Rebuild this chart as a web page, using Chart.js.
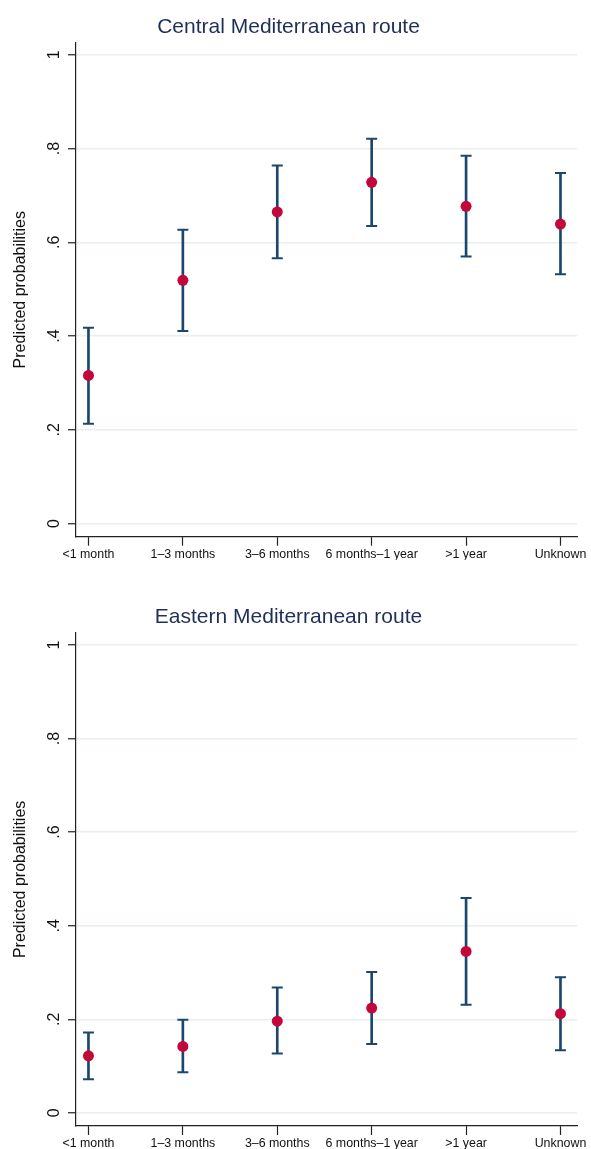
<!DOCTYPE html>
<html>
<head>
<meta charset="utf-8">
<script src="https://cdn.jsdelivr.net/npm/chart.js@4.4.1/dist/chart.umd.min.js"></script>
<style>
  body { margin: 0; background: #fff; }
  canvas { display: block; }
</style>
</head>
<body>
<canvas id="chart-central" width="591" height="580"></canvas>
<canvas id="chart-eastern" width="591" height="569"></canvas>
<script>
/* global Chart */

const durationLabels = ["<1 month", "1–3 months", "3–6 months", "6 months–1 year", ">1 year", "Unknown"];

const centralEst = [0.316, 0.519, 0.665, 0.728, 0.677, 0.639];
const centralLow = [0.213, 0.411, 0.566, 0.635, 0.570, 0.532];
const centralHigh = [0.418, 0.627, 0.764, 0.821, 0.785, 0.748];

const easternEst = [0.122, 0.142, 0.196, 0.224, 0.345, 0.212];
const easternLow = [0.072, 0.087, 0.127, 0.147, 0.231, 0.134];
const easternHigh = [0.172, 0.199, 0.268, 0.301, 0.459, 0.290];

const yTickValues = [0, 0.2, 0.4, 0.6, 0.8, 1];
const yTickLabels = ["0", ".2", ".4", ".6", ".8", "1"];

const NAVY = "#1a476f";
const MAROON = "#c4073a";
const FONT = "'Liberation Sans', Arial, sans-serif";

Chart.defaults.font.family = FONT;
Chart.defaults.color = "#111";

/* Stata-style vertical tick labels on the y axis */
const rotatedYTicks = {
  id: "rotatedYTicks",
  afterDraw(chart) {
    const ys = chart.scales.y;
    const ctx = chart.ctx;
    ctx.save();
    ctx.font = `16px ${FONT}`;
    ctx.fillStyle = "#111";
    ctx.textAlign = "center";
    ctx.textBaseline = "middle";
    ys.ticks.forEach((t, i) => {
      ctx.save();
      ctx.translate(ys.right - 21, ys.getPixelForValue(t.value));
      ctx.rotate(-Math.PI / 2);
      ctx.fillText(yTickLabels[i], 0, 0);
      ctx.restore();
    });
    ctx.restore();
  },
};

function makeChart(id, title, est, low, high, titleTop, titleBottom, padBottom) {
  return new Chart(document.getElementById(id), {
    type: "scatter",
    data: {
      datasets: [
        {
          type: "bar",
          data: durationLabels.map((_, i) => ({ x: i, y: [low[i], high[i]] })),
          backgroundColor: NAVY,
          borderWidth: 0,
          barThickness: 2,
          grouped: false,
          order: 3,
        },
        {
          data: durationLabels.flatMap((_, i) => [{ x: i, y: low[i] }, { x: i, y: high[i] }]),
          pointStyle: "line",
          pointRadius: 5.5,
          borderColor: NAVY,
          borderWidth: 2,
          order: 2,
        },
        {
          data: durationLabels.map((_, i) => ({ x: i, y: est[i] })),
          pointRadius: 5.5,
          backgroundColor: MAROON,
          borderColor: MAROON,
          borderWidth: 0,
          order: 1,
        },
      ],
    },
    options: {
      responsive: false,
      animation: false,
      layout: { padding: { left: 0, right: 14, top: 0, bottom: padBottom } },
      plugins: {
        legend: { display: false },
        tooltip: { enabled: false },
        title: {
          display: true,
          text: title,
          color: "#1f2f56",
          font: { size: 21, weight: "normal" },
          padding: { top: titleTop, bottom: titleBottom },
        },
      },
      scales: {
        x: {
          type: "linear",
          offset: false,
          min: -0.132,
          max: 5.175,
          afterBuildTicks: (axis) => {
            axis.ticks = durationLabels.map((_, i) => ({ value: i }));
          },
          afterFit: (s) => {
            s.height = 23;
          },
          ticks: {
            autoSkip: false,
            maxRotation: 0,
            padding: 1,
            font: { size: 12.4 },
            color: "#111",
            callback: (v, i) => durationLabels[i],
          },
          grid: {
            offset: false,
            drawOnChartArea: false,
            drawTicks: true,
            tickLength: 9,
            tickColor: "#222",
            tickWidth: 1.2,
          },
          border: { display: true, color: "#222", width: 1.2 },
        },
        y: {
          min: -0.028,
          max: 1.026,
          afterBuildTicks: (axis) => {
            axis.ticks = yTickValues.map((v) => ({ value: v }));
          },
          afterFit: (s) => {
            s.width = 76;
          },
          ticks: { display: false },
          grid: { color: "#e8eff1", lineWidth: 1.5, drawTicks: true, tickLength: 8, tickColor: "#222", tickWidth: 1.2 },
          border: { display: true, color: "#222", width: 1.2 },
          title: {
            display: true,
            text: "Predicted probabilities",
            color: "#111",
            font: { size: 16 },
            padding: { top: 11.4, bottom: 0 },
          },
        },
      },
    },
    plugins: [rotatedYTicks],
  });
}

makeChart("chart-central", "Central Mediterranean route", centralEst, centralLow, centralHigh, 14.4, 3.1, 20.3);
makeChart("chart-eastern", "Eastern Mediterranean route", easternEst, easternLow, easternHigh, 25, 2.6, 0);
</script>
</body>
</html>
